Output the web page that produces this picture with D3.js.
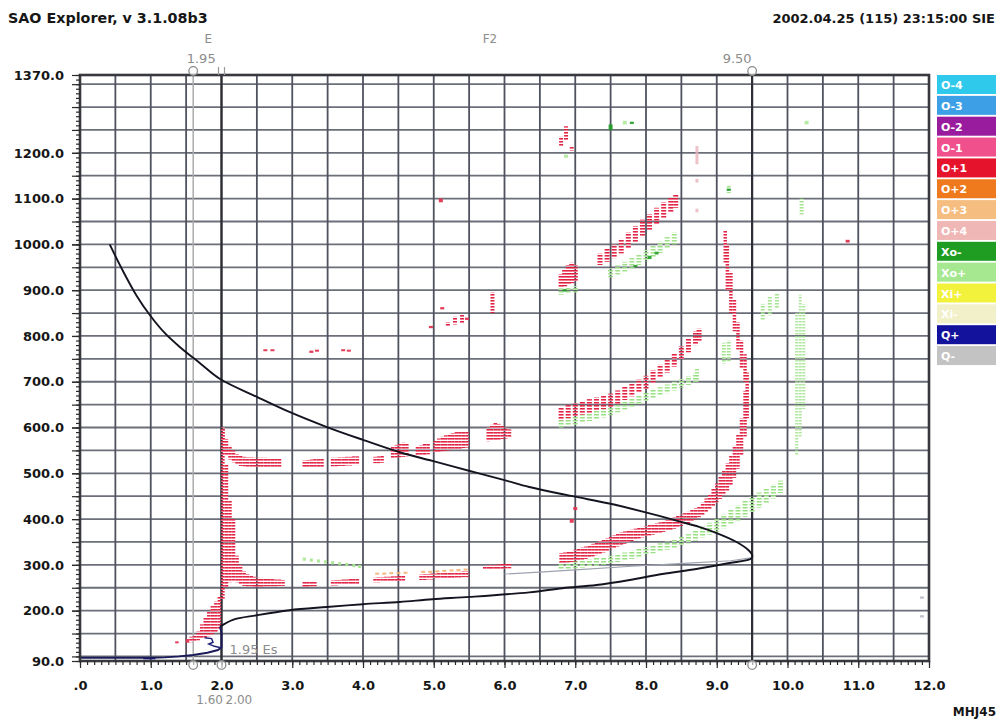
<!DOCTYPE html>
<html>
<head>
<meta charset="utf-8">
<title>SAO Explorer ionogram</title>
<script src="https://cdn.jsdelivr.net/npm/d3@7/dist/d3.min.js"></script>
<style>
  html, body { margin: 0; padding: 0; background: #fff; }
  svg { display: block; }
  .bold { font-family: "DejaVu Sans", Verdana, sans-serif; font-weight: bold; fill: #161616; }
  .note { font-family: "DejaVu Sans", Verdana, sans-serif; fill: #8c8c8c; }
</style>
</head>
<body>
<svg id="ionogram" width="1003" height="720"></svg>
<script>
// ---------------- data ----------------
const freqTicks = [0, 1, 2, 3, 4, 5, 6, 7, 8, 9, 10, 11, 12];
const freqTickLabels = [".0", "1.0", "2.0", "3.0", "4.0", "5.0", "6.0", "7.0", "8.0", "9.0", "10.0", "11.0", "12.0"];
const heightTicks = [1370, 1200, 1100, 1000, 900, 800, 700, 600, 500, 400, 300, 200, 90];
const heightTickLabels = ["1370.0", "1200.0", "1100.0", "1000.0", "900.0", "800.0", "700.0", "600.0", "500.0", "400.0", "300.0", "200.0", "90.0"];

const legendLabels = ["O-4", "O-3", "O-2", "O-1", "O+1", "O+2", "O+3", "O+4", "Xo-", "Xo+", "Xi+", "Xi-", "Q+", "Q-"];

// scaled parameters (MHz)
const foEs = 1.60, foE = 2.00, foF2 = 9.50;
const foELabel = "1.95", foF2Label = "9.50", esLabel = "1.95 Es";
const bottomLabels = ["1.60", "2.00"];

// echo columns: [frequency MHz, lower virtual height km, upper virtual height km]
const oEsEchoes = [[1.37,129,133],[1.52,130,138],[1.57,131,143],[1.62,133,147],[1.67,135,155],[1.72,138,170],[1.77,141,185],[1.82,144,198],[1.87,148,210],[1.92,153,220],[1.97,160,230]];

const oF1Echoes = [[2.02,225,600],[2.07,250,520],[2.12,262,440],[2.17,265,400],[2.22,262,320],[2.27,256,300],[2.32,254,286],[2.37,253,280],[2.42,253,276],[2.47,252,274],[2.52,252,272],[2.57,252,271],[2.62,253,270],[2.67,253,270],[2.72,253,269],[2.77,253,268],[2.82,254,268],[2.87,254,267],
  [3.17,252,263],[3.22,252,264],[3.27,253,264],[3.32,253,265],[3.57,255,266],[3.62,255,267],[3.67,256,267],[3.72,256,268],[3.77,256,268],[3.82,257,269],[3.87,257,269],[3.92,258,270],
  [4.17,262,272],[4.22,262,273],[4.27,263,273],[4.32,263,274],[4.37,263,274],[4.42,264,275],[4.47,264,275],[4.52,264,276],[4.57,265,276],
  [4.82,267,279],[4.87,267,280],[4.92,268,280],[4.97,268,281],[5.02,269,281],[5.07,269,282],[5.12,270,282],[5.17,270,283],[5.22,271,283],[5.27,271,284],[5.32,272,285],[5.37,272,285],[5.42,273,286],[5.47,273,286],
  [5.72,289,298],[5.77,289,299],[5.82,290,300],[5.87,290,300],[5.92,291,301],[5.97,291,302],[6.02,292,302],[6.07,292,303]];

const oPlus3Echoes = [[4.2,279,283],[4.3,279,283],[4.4,280,284],[4.5,280,284],[4.6,281,285],[4.85,283,287],[4.95,283,287],[5.05,284,288],[5.15,285,289],[5.25,286,290],[5.35,287,291],[5.45,288,292]];

const oF2Echoes = [[6.8,303,326],[6.85,304,327],[6.9,305,329],[6.95,306,330],[7.0,307,333],[7.05,309,335],[7.1,311,338],[7.15,313,340],[7.2,315,343],[7.25,318,346],[7.3,321,349],[7.35,324,352],[7.4,327,355],[7.45,330,358],[7.5,334,362],[7.55,337,365],[7.6,340,368],[7.65,343,371],[7.7,346,373],[7.75,349,375],[7.8,352,377],[7.85,355,379],[7.9,357,381],[7.95,360,383],[8.0,362,385],[8.05,364,387],[8.1,366,389],[8.15,368,391],[8.2,370,393],[8.25,372,396],[8.3,374,398],[8.35,376,401],[8.4,379,404],[8.45,382,407],[8.5,385,410],[8.55,388,413],[8.6,391,416],[8.65,395,420],[8.7,399,424],[8.75,404,428],
  [8.8,408,436],[8.85,414,445],[8.9,420,455],[8.95,428,466],[9.0,436,478],[9.05,444,492],[9.1,452,506],[9.15,462,522],[9.2,474,540],[9.25,490,560],[9.3,510,585],[9.35,540,620],[9.4,580,680],[9.43,620,720],[9.4,700,760],[9.35,730,790],[9.3,770,830],[9.25,810,880],[9.2,850,940],[9.15,900,1000],[9.12,960,1030]];

const o2hopLowEchoes = [[2.02,545,600],[2.07,538,575],[2.12,530,560],[2.17,524,550],[2.22,519,542],[2.27,516,538],[2.32,515,536],[2.37,514,535],[2.42,514,535],[2.47,514,534],[2.52,513,534],[2.57,513,534],[2.62,513,534],[2.67,513,533],[2.72,513,533],[2.77,513,533],[2.82,513,532],
  [3.17,512,528],[3.22,512,529],[3.27,512,530],[3.32,513,531],[3.37,513,531],[3.42,513,532],[3.57,515,534],[3.62,515,534],[3.67,516,535],[3.72,516,535],[3.77,517,536],[3.82,517,536],[3.87,518,537],[3.92,518,537],
  [4.17,522,536],[4.22,522,537],[4.27,523,538],[4.42,533,558],[4.47,534,562],[4.52,535,565],[4.57,536,567],[4.62,537,564],[4.77,538,558],[4.82,539,561],[4.87,540,564],[4.92,541,566],
  [5.02,545,572],[5.07,546,576],[5.12,548,580],[5.17,549,583],[5.22,550,586],[5.27,551,588],[5.32,552,590],[5.37,553,591],[5.42,555,592],[5.47,556,592],
  [5.77,570,600],[5.82,571,606],[5.87,572,610],[5.92,573,608],[5.97,575,604],[6.02,576,600],[6.07,578,596]];

const o2hopHighEchoes = [[6.8,616,645],[6.9,620,649],[7.0,624,653],[7.1,628,657],[7.2,632,662],[7.3,636,666],[7.4,640,670],[7.5,644,674],[7.6,651,681],[7.7,660,689],[7.8,668,697],[7.9,676,705],[8.0,684,713],[8.1,696,725],[8.2,708,737],[8.3,720,749],[8.4,733,762],[8.5,748,778],[8.6,764,794],[8.7,780,810],[8.75,788,816]];

const o3hopEchoes = [[6.8,905,935],[6.85,908,945],[6.9,912,955],[6.95,915,960],[7.0,920,955],[7.35,955,980],[7.45,962,990],[7.55,970,1000],[7.65,980,1012],[7.75,992,1026],[7.85,1004,1040],[7.95,1016,1054],[8.05,1030,1066],[8.15,1044,1080],[8.25,1058,1092],[8.35,1070,1102],[8.42,1080,1110]];

const oScatterEchoes = [[2.62,767,771],[2.72,767,771],[3.27,763,768],[3.35,766,770],[3.72,767,771],[3.8,766,770],[5.2,820,830],[5.3,825,842],[5.4,828,848],[5.47,835,840],[5.83,850,895],[5.1,1092,1100],[5.12,858,863],[4.96,817,822],[6.8,1215,1235],[6.87,1228,1258],[6.95,1205,1215],[6.95,392,400],[7.0,420,426],[10.85,1004,1010]];

const oFaintEchoes = [[8.72,1175,1215],[8.72,1070,1078],[8.72,1135,1143]];

const xLowEchoes = [[3.17,309,316],[3.27,307,314],[3.37,305,312],[3.47,303,310],[3.57,301,308],[3.67,299,306],[3.77,297,304],[3.87,295,302],[3.95,293,300]];

const xF2Echoes = [[6.8,290,304],[6.9,291,306],[7.0,292,308],[7.1,294,310],[7.2,296,312],[7.3,298,315],[7.4,300,317],[7.5,303,320],[7.6,306,323],[7.7,309,327],[7.8,313,331],[7.9,317,335],[8.0,321,339],[8.1,325,343],[8.2,329,347],[8.3,333,351],[8.4,337,356],[8.5,342,361],[8.6,347,367],[8.7,353,375],[8.8,360,384],[8.9,366,392],[9.0,372,400],[9.1,380,410],[9.2,388,420],[9.3,396,430],[9.4,405,440],[9.5,415,449],[9.6,425,458],[9.7,435,466],[9.8,445,475],[9.9,457,484]];

const x2hopEchoes = [[6.8,600,618],[6.9,603,621],[7.0,606,624],[7.1,610,628],[7.2,614,632],[7.3,618,636],[7.4,622,640],[7.5,627,646],[7.6,633,652],[7.7,639,658],[7.8,645,664],[7.9,651,670],[8.0,657,676],[8.1,663,682],[8.2,669,688],[8.3,675,694],[8.4,681,700],[8.5,687,706],[8.6,693,712],[8.7,699,718]];

const x3hopEchoes = [[6.8,890,904],[6.9,892,906],[7.0,895,909],[7.5,928,948],[7.6,934,955],[7.7,940,962],[7.8,947,970],[7.9,955,979],[8.0,963,988],[8.1,972,997],[8.2,981,1006],[8.3,990,1016],[8.4,1000,1026]];

const xVerticalEchoes = [[10.13,540,850],[10.18,580,890],[10.23,640,870]];

const xScatterEchoes = [[9.1,740,785],[9.17,745,790],[9.65,835,870],[9.75,845,885],[9.85,860,893],[9.17,1112,1130],[10.2,1065,1100],[10.27,1262,1270],[7.7,1262,1270],[8.72,700,728],[6.87,1189,1196]];

const xDarkEchoes = [[7.5,1250,1262],[7.8,1263,1268],[8.05,968,975],[6.85,897,902],[9.17,1117,1122],[7.85,951,955],[8.15,978,984]];

const qMinusEchoes = [[11.9,226,231],[11.9,185,190]];
const qPlusEchoes = [[0.98,96,98]];

// computed trace line: [frequency MHz, height km]
const qMinusTrace = [[6.0,280],[6.5,284],[7.0,289],[7.8,297],[8.6,304],[9.2,309],[9.5,316]];

// electron density profile: [plasma frequency MHz, real height km]
const profileF = [[0.42,1000],[0.6,944],[0.8,888],[1.0,843],[1.2,806],[1.41,776],[1.7,740],[1.98,706],[2.5,667],[2.96,634],[3.49,601],[4.0,573],[4.52,546],[4.98,527],[5.51,505],[6.0,485],[6.35,470],[6.96,450],[7.48,434],[8.01,414],[8.47,395],[8.75,383],[8.99,370],[9.28,350],[9.45,332],[9.5,322],[9.49,314],[9.18,304],[8.71,291],[8.23,280],[7.77,267],[7.3,256],[6.82,249],[6.35,240],[5.51,230],[4.98,225],[4.52,219],[4.0,214],[3.49,208],[2.96,201],[2.5,190],[2.16,180],[1.98,165]];
const profileE = [[1.98,165],[2.0,150],[2.0,135],[2.0,120],[1.95,114],[1.8,108],[1.6,103],[1.4,100],[1.2,98],[1.0,97],[0.5,97],[0.0,97]];
const profileEHook = [[1.76,141],[1.86,139],[1.88,131],[1.82,127],[1.9,122],[1.99,119]];

// ---------------- drawing ----------------
const svg = d3.select("#ionogram");
const x = d3.scaleLinear().domain([0, 12]).range([80, 929]);
const y = d3.scaleLinear().domain([90, 1370]).range([661, 75]);

const palette = {
  "O-4": "#2fc9ec", "O-3": "#3d9fe6", "O-2": "#9a1c9e", "O-1": "#f0508c",
  "O+1": "#e5132c", "O+2": "#ef7a1e", "O+3": "#f6bd80", "O+4": "#efb7b5",
  "Xo-": "#1f9d23", "Xo+": "#a6e88f", "Xi+": "#f2f23c", "Xi-": "#f1f0c8",
  "Q+": "#12129c", "Q-": "#c3c3c3"
};

// striped fills that give the echo columns their dashed texture
const defs = svg.append("defs");
function stripes(id, c1, c2) {
  const p = defs.append("pattern").attr("id", id)
    .attr("patternUnits", "userSpaceOnUse").attr("width", 8).attr("height", 3);
  p.append("rect").attr("width", 8).attr("height", 1).attr("y", 0).attr("fill", c1);
  p.append("rect").attr("width", 8).attr("height", 1).attr("y", 1).attr("fill", c2);
}
stripes("echoO", "#dc1c3a", "#f2738c");
stripes("echoX", "#8fdb78", "#c3efb2");
stripes("echoO3", "#f2aa66", "#f9d3a8");

// grid
const grid = svg.append("g");
grid.selectAll("line.h").data(d3.range(100, 1351, 50)).join("line")
  .attr("x1", x(0)).attr("x2", x(12))
  .attr("y1", d => y(d)).attr("y2", d => y(d))
  .attr("stroke", "#6c6f7a").attr("stroke-width", 1.8);
grid.selectAll("line.v").data(d3.range(1, 24).map(i => i / 2)).join("line")
  .attr("y1", y(90)).attr("y2", y(1370))
  .attr("x1", d => x(d)).attr("x2", d => x(d))
  .attr("stroke", "#50535f").attr("stroke-width", 1.8);

// scaled-parameter lines
grid.append("line").attr("x1", x(foEs)).attr("x2", x(foEs)).attr("y1", y(90)).attr("y2", y(1370))
  .attr("stroke", "#ababab").attr("stroke-width", 1.5);
[foE, foF2].forEach(f => {
  grid.append("line").attr("x1", x(f)).attr("x2", x(f)).attr("y1", y(90)).attr("y2", y(1370))
    .attr("stroke", "#2e2e36").attr("stroke-width", 2.2);
});

// echoes
const echoes = svg.append("g");
function drawEchoes(cols, fillId, solid, w, opacity) {
  echoes.append("g").selectAll("rect").data(cols).join("rect")
    .attr("x", d => x(d[0]) - w / 2)
    .attr("y", d => y(d[2]))
    .attr("width", w)
    .attr("height", d => Math.max(2, y(d[1]) - y(d[2])))
    .attr("fill", d => (y(d[1]) - y(d[2]) < 4 || !fillId) ? solid : `url(#${fillId})`)
    .attr("opacity", opacity);
}
drawEchoes(xLowEchoes, "echoX", "#a6e68f", 3, 0.9);
drawEchoes(xF2Echoes, "echoX", "#a6e68f", 5, 0.9);
drawEchoes(x2hopEchoes, "echoX", "#a6e68f", 5, 0.9);
drawEchoes(x3hopEchoes, "echoX", "#a6e68f", 5, 0.85);
drawEchoes(xVerticalEchoes, "echoX", "#a6e68f", 3, 0.7);
drawEchoes(xScatterEchoes, "echoX", "#a6e68f", 4, 0.8);
drawEchoes(oPlus3Echoes, "echoO3", "#f3b173", 4, 0.9);
drawEchoes(oEsEchoes, "echoO", "#e33350", 3.5, 0.95);
drawEchoes(oF1Echoes, "echoO", "#e33350", 3.5, 0.95);
drawEchoes(o2hopLowEchoes, "echoO", "#e33350", 3.5, 0.95);
drawEchoes(oF2Echoes, "echoO", "#e33350", 3.5, 0.95);
drawEchoes(o2hopHighEchoes, "echoO", "#e33350", 5, 0.95);
drawEchoes(o3hopEchoes, "echoO", "#e33350", 5, 0.95);
drawEchoes(oScatterEchoes, "echoO", "#e33350", 4, 0.95);
drawEchoes(oFaintEchoes, null, "#e9b3bb", 3, 0.8);
drawEchoes(xDarkEchoes, null, palette["Xo-"], 4, 0.9);
drawEchoes(qMinusEchoes, null, "#b9b9c4", 4, 0.9);

// profile
const lineLin = d3.line().x(d => x(d[0])).y(d => y(d[1]));
svg.append("path").datum(qMinusTrace).attr("d", lineLin)
  .attr("fill", "none").attr("stroke", "#9ea2ae").attr("stroke-width", 1.2);
svg.append("path").datum(profileF).attr("d", d3.line().x(d => x(d[0])).y(d => y(d[1])).curve(d3.curveCatmullRom))
  .attr("fill", "none").attr("stroke", "#141420").attr("stroke-width", 1.9);
svg.append("path").datum(profileE).attr("d", lineLin)
  .attr("fill", "none").attr("stroke", "#1b1b5a").attr("stroke-width", 1.9);
svg.append("path").datum(profileEHook).attr("d", lineLin)
  .attr("fill", "none").attr("stroke", "#23237a").attr("stroke-width", 1.5);
drawEchoes(qPlusEchoes, null, palette["Q+"], 12, 1);

// frame
svg.append("rect").attr("x", x(0)).attr("y", y(1370))
  .attr("width", x(12) - x(0)).attr("height", y(90) - y(1370))
  .attr("fill", "none").attr("stroke", "#38383f").attr("stroke-width", 2.6);

// axes
function styleAxis(g) {
  g.select(".domain").remove();
  g.selectAll(".tick line").attr("stroke", "#2a2a2a").attr("stroke-width", 1.2);
  g.selectAll("text").attr("class", "bold").attr("font-size", 13).style("fill", "#161616");
}
svg.append("g").attr("transform", `translate(${x(0)},0)`)
  .call(d3.axisLeft(y).tickValues(d3.range(0, 129).map(i => 90 + i * 10)).tickSize(4).tickFormat(""))
  .call(styleAxis);
svg.append("g").attr("transform", `translate(${x(0)},0)`)
  .call(d3.axisLeft(y).tickValues(d3.range(100, 1351, 50)).tickSize(8).tickFormat(""))
  .call(styleAxis);
svg.append("g").attr("transform", `translate(${x(0)},0)`)
  .call(d3.axisLeft(y).tickValues(heightTicks).tickSize(8).tickPadding(8)
    .tickFormat((d, i) => heightTickLabels[i]))
  .call(styleAxis);

svg.append("g").attr("transform", `translate(0,${y(90)})`)
  .call(d3.axisBottom(x).tickValues(d3.range(0, 121).map(i => i / 10)).tickSize(4).tickFormat(""))
  .call(styleAxis);
svg.append("g").attr("transform", `translate(0,${y(90)})`)
  .call(d3.axisBottom(x).tickValues(freqTicks).tickSize(7).tickPadding(13)
    .tickFormat((d, i) => freqTickLabels[i]))
  .call(styleAxis);

// scaled parameter markers
const marks = svg.append("g");
[[foEs, y(1370) - 4], [foF2, y(1370) - 4], [foEs, y(90) + 4], [foE, y(90) + 4], [foF2, y(90) + 4]].forEach(([f, cy]) => {
  marks.append("circle").attr("cx", x(f)).attr("cy", cy).attr("r", 4.3)
    .attr("fill", "#fff").attr("fill-opacity", 0.6).attr("stroke", "#8c8c8c").attr("stroke-width", 1.3);
});
[-3, 3].forEach(dx => {
  marks.append("line").attr("x1", x(foE) + dx).attr("x2", x(foE) + dx)
    .attr("y1", y(1370) - 8).attr("y2", y(1370)).attr("stroke", "#9a9a9a").attr("stroke-width", 1.2);
});
marks.append("text").attr("class", "note").attr("font-size", 12).attr("text-anchor", "middle")
  .attr("x", x(foEs) + 15).attr("y", 43).text("E");
marks.append("text").attr("class", "note").attr("font-size", 13).attr("text-anchor", "middle")
  .attr("x", x(foEs) + 8).attr("y", 63).text(foELabel);
marks.append("text").attr("class", "note").attr("font-size", 12).attr("text-anchor", "middle")
  .attr("x", 490).attr("y", 43).text("F2");
marks.append("text").attr("class", "note").attr("font-size", 13).attr("text-anchor", "middle")
  .attr("x", x(foF2) - 15).attr("y", 63).text(foF2Label);
marks.append("text").attr("class", "note").attr("font-size", 13)
  .attr("x", x(foE) + 8).attr("y", 654).text(esLabel);
marks.append("text").attr("class", "note").attr("font-size", 12)
  .attr("x", x(foEs) + 3).attr("y", 704).text(bottomLabels[0]);
marks.append("text").attr("class", "note").attr("font-size", 12)
  .attr("x", x(foE) + 4).attr("y", 704).text(bottomLabels[1]);

// legend
const legend = svg.append("g").attr("transform", "translate(937,75)");
const item = legend.selectAll("g").data(legendLabels).join("g")
  .attr("transform", (d, i) => `translate(0,${i * 20.85})`);
item.append("rect").attr("width", 59).attr("height", 19).attr("fill", d => palette[d]);
item.append("text").attr("x", 4).attr("y", 14)
  .attr("font-family", "DejaVu Sans, Verdana, sans-serif").attr("font-weight", "bold")
  .attr("font-size", 11).attr("fill", "#fff").text(d => d);

// header / footer
svg.append("text").attr("class", "bold").attr("font-size", 14.3).attr("x", 8).attr("y", 23)
  .text("SAO Explorer, v 3.1.08b3");
svg.append("text").attr("class", "bold").attr("font-size", 13).attr("x", 995).attr("y", 23)
  .attr("text-anchor", "end").text("2002.04.25 (115) 23:15:00 SIE");
svg.append("text").attr("class", "bold").attr("font-size", 12).attr("x", 996).attr("y", 716)
  .attr("text-anchor", "end").text("MHJ45");
</script>
</body>
</html>
